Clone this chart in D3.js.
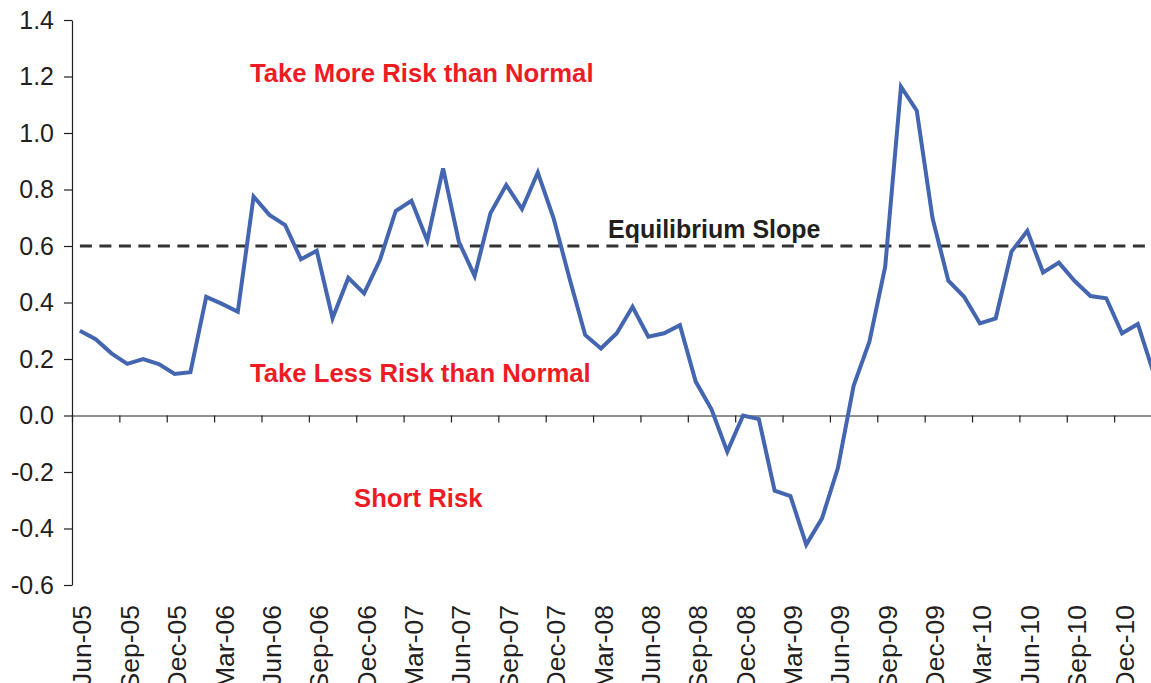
<!DOCTYPE html>
<html>
<head>
<meta charset="utf-8">
<script src="https://cdn.jsdelivr.net/npm/d3@7"></script>
<style>
  html, body { margin: 0; padding: 0; background: #fff; }
  svg { display: block; overflow: hidden; }
  text { font-family: "Liberation Sans", Arial, sans-serif; }
</style>
</head>
<body>
<svg id="chart" width="1151" height="683"></svg>
<script>
const categories = [
  "Jun-05","Jul-05","Aug-05","Sep-05","Oct-05","Nov-05","Dec-05",
  "Jan-06","Feb-06","Mar-06","Apr-06","May-06","Jun-06","Jul-06","Aug-06","Sep-06","Oct-06","Nov-06","Dec-06",
  "Jan-07","Feb-07","Mar-07","Apr-07","May-07","Jun-07","Jul-07","Aug-07","Sep-07","Oct-07","Nov-07","Dec-07",
  "Jan-08","Feb-08","Mar-08","Apr-08","May-08","Jun-08","Jul-08","Aug-08","Sep-08","Oct-08","Nov-08","Dec-08",
  "Jan-09","Feb-09","Mar-09","Apr-09","May-09","Jun-09","Jul-09","Aug-09","Sep-09","Oct-09","Nov-09","Dec-09",
  "Jan-10","Feb-10","Mar-10","Apr-10","May-10","Jun-10","Jul-10","Aug-10","Sep-10","Oct-10","Nov-10","Dec-10",
  "Jan-11","Feb-11"
];
const slopeValues = [
  0.30, 0.27, 0.22, 0.183, 0.20, 0.182, 0.147,
  0.153, 0.42, 0.395, 0.367, 0.775, 0.71, 0.674, 0.553, 0.583, 0.344, 0.487, 0.432,
  0.55, 0.724, 0.76, 0.619, 0.875, 0.615, 0.494, 0.716, 0.816, 0.731, 0.86, 0.698,
  0.487, 0.285, 0.237, 0.291, 0.385, 0.279, 0.291, 0.32, 0.12, 0.022, -0.128, 0.0,
  -0.013, -0.266, -0.285, -0.457, -0.364, -0.187, 0.105, 0.261, 0.527, 1.164, 1.079, 0.698,
  0.477, 0.42, 0.326, 0.344, 0.58, 0.654, 0.506, 0.541, 0.476, 0.423, 0.415, 0.291,
  0.324, 0.15
];
const equilibriumSlope = 0.6;
const yTicks = [-0.6, -0.4, -0.2, 0.0, 0.2, 0.4, 0.6, 0.8, 1.0, 1.2, 1.4];
const tickLabels = categories.filter((c, i) => i % 3 === 0);
const annotations = [
  { text: "Take More Risk than Normal", color: "#ed1c24", pos: "more" },
  { text: "Take Less Risk than Normal", color: "#ed1c24", pos: "less" },
  { text: "Short Risk", color: "#ed1c24", pos: "short" },
  { text: "Equilibrium Slope", color: "#231f20", pos: "eq" }
];

(function () {
const svg = d3.select("#chart");
const mLeft = 72, mTop = 20, mBottom = 585;
const monthW = 15.79;
const x = d3.scaleLinear().domain([0, categories.length]).range([mLeft, mLeft + categories.length * monthW]);
const y = d3.scaleLinear().domain([-0.6, 1.4]).range([mBottom, mTop]);
const FONT = "'Liberation Sans', Arial, sans-serif";

// Y axis
const yAxis = d3.axisLeft(y).tickValues(yTicks).tickSize(8).tickSizeOuter(0).tickPadding(10)
  .tickFormat(d => d.toFixed(1));
const gy = svg.append("g").attr("transform", `translate(${mLeft},0)`).call(yAxis);
gy.select(".domain").attr("stroke", "#231f20").attr("stroke-width", 1.2);
gy.selectAll(".tick line").attr("stroke", "#231f20").attr("stroke-width", 1.2);
gy.selectAll(".tick text").attr("font-size", 25).attr("fill", "#231f20").style("font-family", FONT);

// X axis line at zero with ticks between categories
const tickIdx = d3.range(0, categories.length + 1, 3);
const xAxis = d3.axisBottom(x).tickValues(tickIdx).tickSize(7).tickSizeOuter(0).tickFormat("");
const gx = svg.append("g").attr("transform", `translate(0,${y(0)})`).call(xAxis);
gx.select(".domain").attr("stroke", "#231f20").attr("stroke-width", 1.2);
gx.selectAll(".tick line").attr("stroke", "#231f20").attr("stroke-width", 1.2);

// X labels at bottom (rotated)
const labelIdx = d3.range(0, categories.length, 3);
const xLab = d3.axisBottom(x).tickValues(labelIdx.map(i => i + 0.5)).tickSize(0)
  .tickFormat(d => categories[Math.round(d - 0.5)]);
const gl = svg.append("g").attr("transform", `translate(0,${mBottom + 20})`).call(xLab);
gl.select(".domain").remove();
gl.selectAll(".tick").attr("transform", d => `translate(${x(d) + 2},0)`);
gl.selectAll(".tick text")
  .attr("font-size", 26.5).attr("fill", "#231f20").style("font-family", FONT)
  .attr("text-anchor", "end")
  .attr("transform", "rotate(-90)")
  .attr("x", 0).attr("y", 0).attr("dx", 0).attr("dy", "0.36em");

// Equilibrium dashed line
svg.append("path")
  .datum(categories)
  .attr("fill", "none")
  .attr("stroke", "#333333")
  .attr("stroke-width", 3)
  .attr("stroke-dasharray", "12,7.5")
  .attr("d", d3.line().x((d, i) => x(i + 0.5)).y(() => y(equilibriumSlope)));

// Series line
svg.append("path")
  .datum(slopeValues)
  .attr("fill", "none")
  .attr("stroke", "#4466b0")
  .attr("stroke-width", 4)
  .attr("stroke-linejoin", "miter")
  .attr("d", d3.line().x((d, i) => x(i + 0.5)).y(d => y(d)));

// Annotations
const annPos = {
  more: [250, y(1.181)],
  less: [250, y(0.119)],
  short: [354, y(-0.323)],
  eq: [608, y(0.627)]
};
svg.selectAll("text.ann").data(annotations).enter().append("text")
  .attr("class", "ann")
  .attr("x", d => annPos[d.pos][0])
  .attr("y", d => annPos[d.pos][1])
  .attr("fill", d => d.color)
  .attr("font-size", d => d.pos === "eq" ? 25 : 25.7)
  .attr("font-weight", "bold")
  .style("font-family", FONT)
  .text(d => d.text);
})();
</script>
</body>
</html>
